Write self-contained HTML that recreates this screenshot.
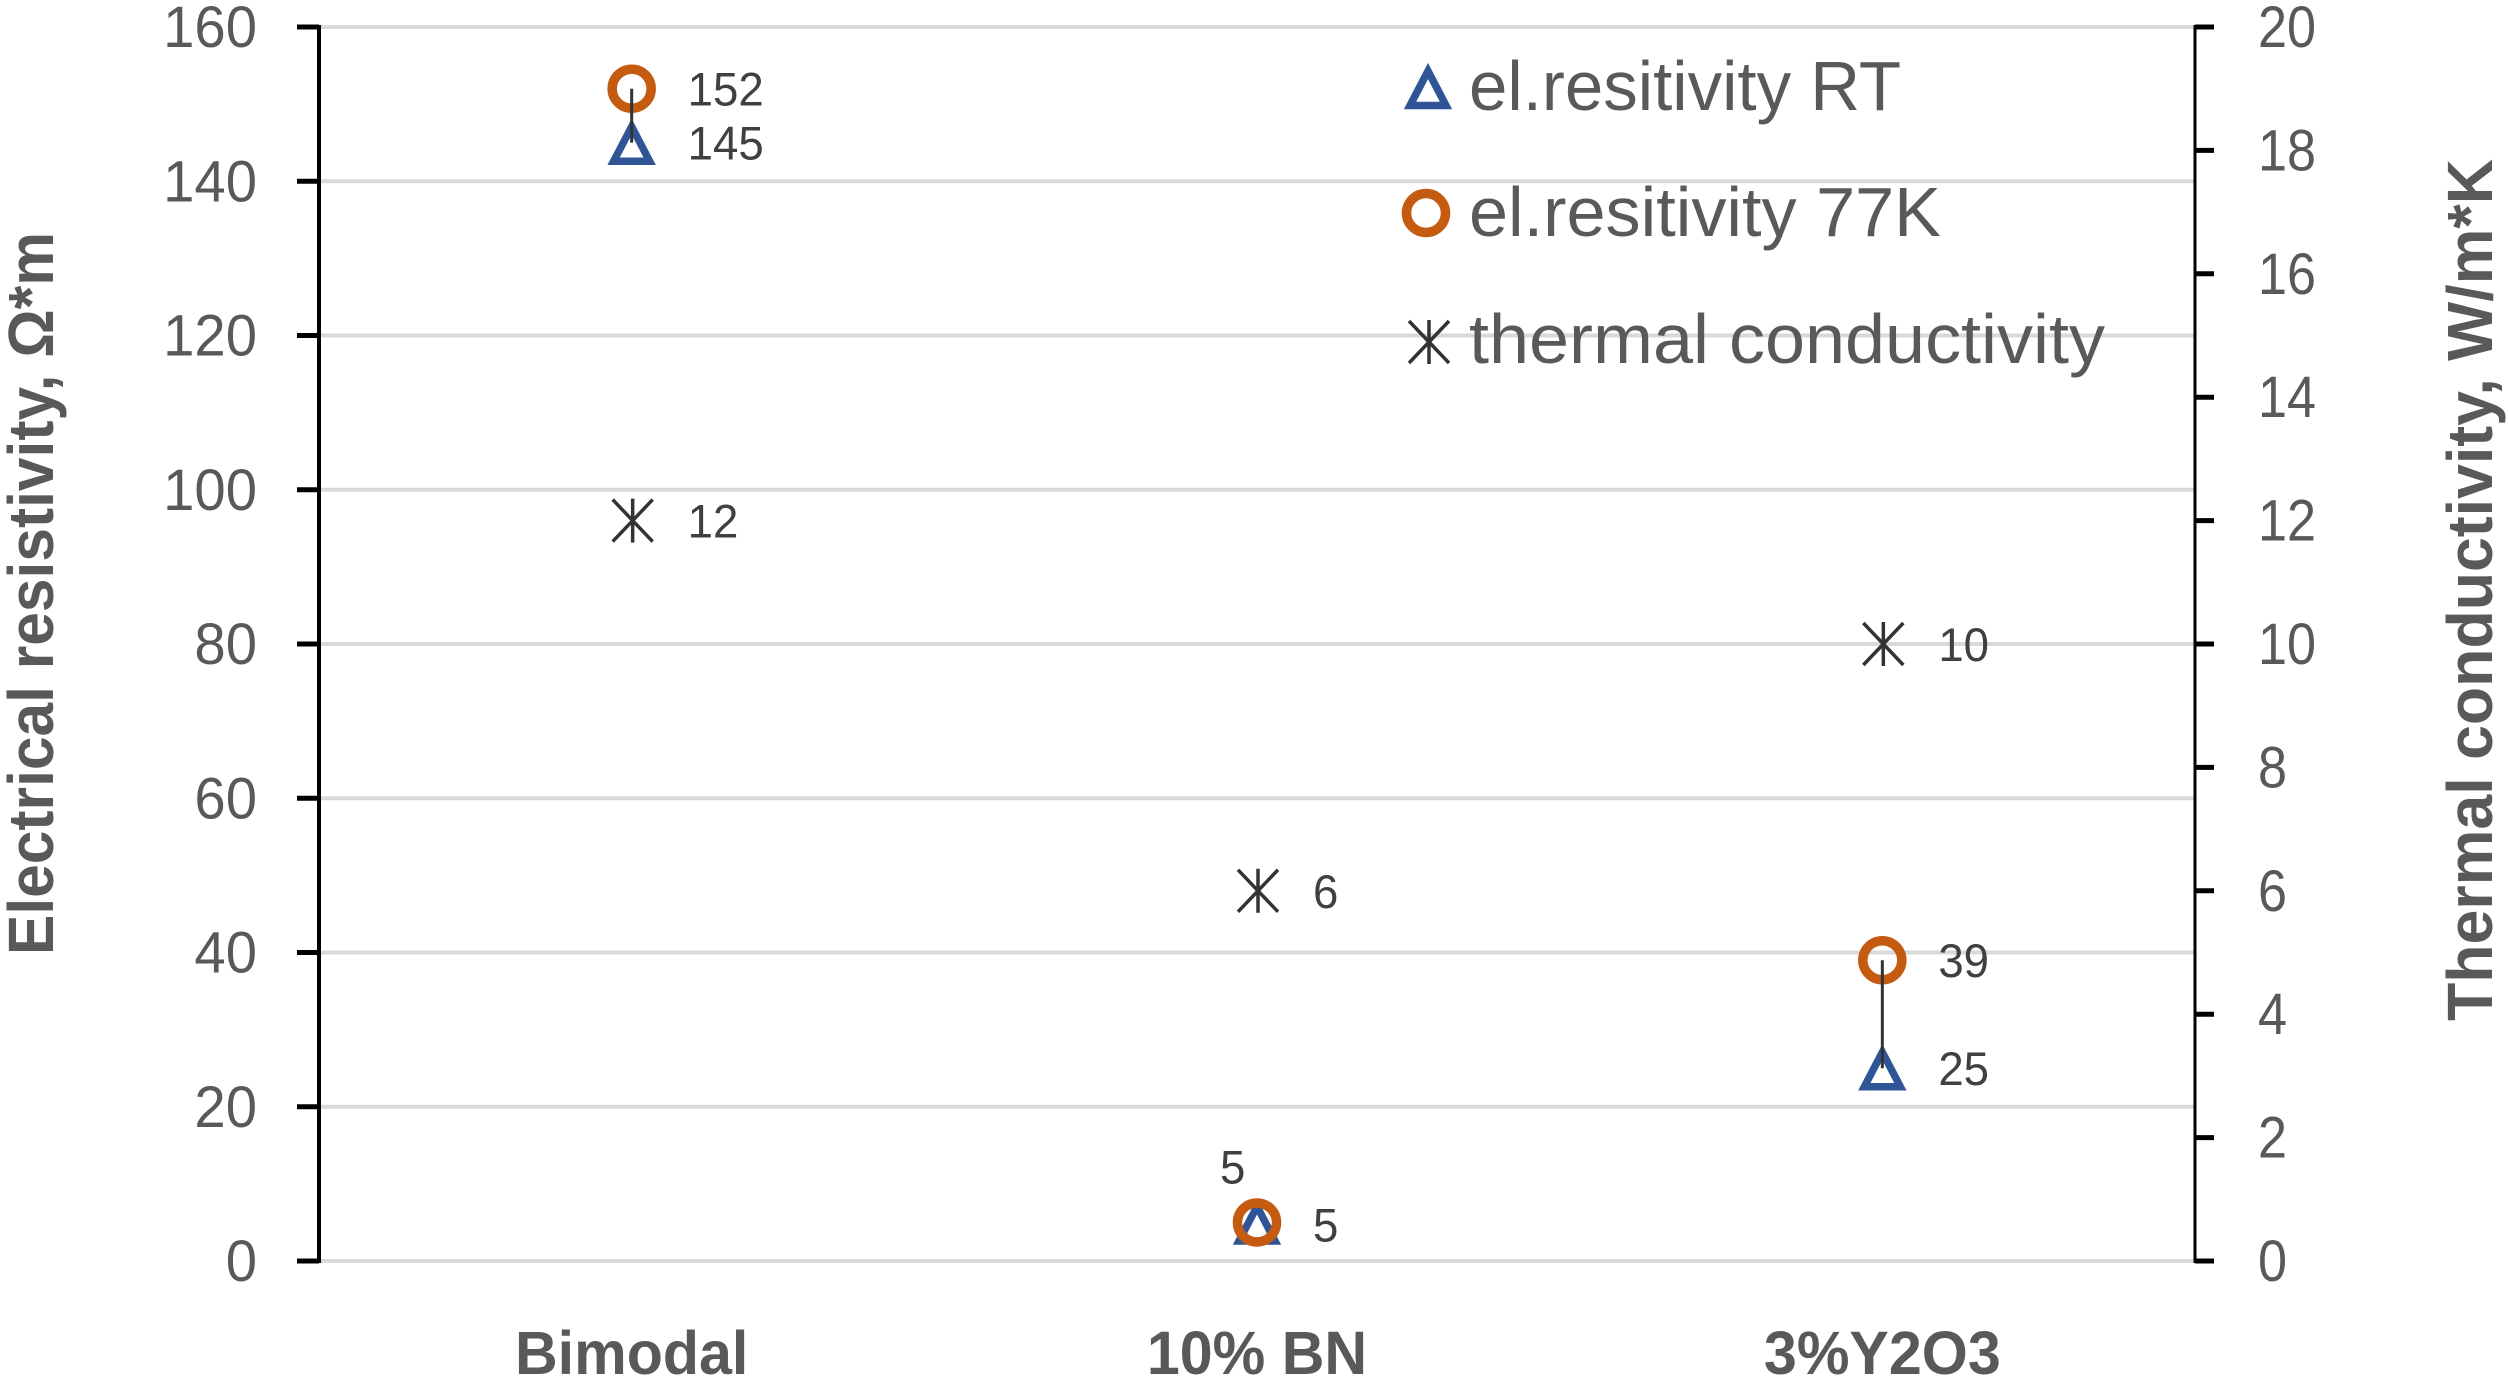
<!DOCTYPE html>
<html lang="en">
<head>
<meta charset="utf-8">
<title>Electrical resistivity and thermal conductivity</title>
<style>
  html, body { margin: 0; padding: 0; background: #fff; }
  #chart { display: block; width: 2508px; height: 1379px; background: #fff; font-family: "Liberation Sans", sans-serif; }
  .tick-label { font-size: 58px; fill: #595959; }
  .data-label { font-size: 47px; fill: #404040; }
  .cat-label { font-size: 61px; font-weight: 700; fill: #595959; text-anchor: middle; }
  .axis-title { font-size: 64px; font-weight: 700; fill: #595959; }
  .legend-text { font-size: 70px; fill: #595959; }
</style>
</head>
<body>
<svg id="chart" xmlns="http://www.w3.org/2000/svg" width="2508" height="1379" viewBox="0 0 2508 1379">
  <g id="grid"></g>
  <g id="axes"></g>
  <g id="marks"></g>
  <g id="labels"></g>
  <g id="cats"></g>

  <text class="axis-title" transform="translate(53,955) rotate(-90)" textLength="723" lengthAdjust="spacingAndGlyphs">Electrical resistivity, Ω*m</text>
  <text class="axis-title" transform="translate(2492,1021) rotate(-90)" textLength="862" lengthAdjust="spacingAndGlyphs">Thermal conductivity, W/m*K</text>

  <g>
    <g id="legend-marker-rt"></g>
    <text class="legend-text" x="1469" y="110" textLength="432" lengthAdjust="spacingAndGlyphs">el.resitivity RT</text>
    <g id="legend-marker-77k"></g>
    <text class="legend-text" x="1469" y="236" textLength="472" lengthAdjust="spacingAndGlyphs">el.resitivity 77K</text>
    <g id="legend-marker-thermal"></g>
    <text class="legend-text" x="1469" y="363" textLength="636" lengthAdjust="spacingAndGlyphs">thermal conductivity</text>
  </g>
</svg>
<script>
const categories = ["Bimodal", "10% BN", "3%Y2O3"];
const resistivityRT = [145, 5, 25];
const resistivity77K = [152, 5, 39];
const thermalConductivity = [12, 6, 10];
const leftTicks = [0, 20, 40, 60, 80, 100, 120, 140, 160];
const rightTicks = [0, 2, 4, 6, 8, 10, 12, 14, 16, 18, 20];

const NS = "http://www.w3.org/2000/svg";
const plot = { left: 319, right: 2195, top: 27, bottom: 1261 };
const leftMax = 160;
const rightMax = 20;

function xCat(i) { return plot.left + (i + 0.5) * (plot.right - plot.left) / categories.length; }
function yLeft(v) { return plot.bottom - v / leftMax * (plot.bottom - plot.top); }
function yRight(v) { return plot.bottom - v / rightMax * (plot.bottom - plot.top); }

function shape(parent, tag, props) {
  const el = document.createElementNS(NS, tag);
  for (const k in props) el.setAttribute(k, props[k]);
  parent.appendChild(el);
  return el;
}

function drawLine(parent, x1, y1, x2, y2, stroke, width) {
  return shape(parent, "line", { x1: x1, y1: y1, x2: x2, y2: y2, stroke: stroke, "stroke-width": width });
}

function drawTriangle(parent, cx, cy) {
  const pts = [[cx - 18, cy + 18.5], [cx + 18, cy + 18.5], [cx, cy - 16]].map(p => p.join(",")).join(" ");
  return shape(parent, "polygon", { points: pts, fill: "none", stroke: "#2f5597", "stroke-width": 7.5, "stroke-linejoin": "miter", "stroke-miterlimit": 6 });
}

function drawCircle(parent, cx, cy) {
  return shape(parent, "circle", { cx: cx, cy: cy, r: 19.5, fill: "none", stroke: "#c55a11", "stroke-width": 9.5 });
}

function drawStar(parent, cx, cy) {
  const g = shape(parent, "g", { stroke: "#333333", "stroke-width": 3.5 });
  shape(g, "line", { x1: cx, y1: cy - 22, x2: cx, y2: cy + 22 });
  shape(g, "line", { x1: cx - 20, y1: cy - 21, x2: cx + 20, y2: cy + 21 });
  shape(g, "line", { x1: cx - 20, y1: cy + 21, x2: cx + 20, y2: cy - 21 });
  return g;
}

function drawText(parent, x, y, cls, str, anchor, squeeze) {
  const t = shape(parent, "text", { x: x, y: y, class: cls, "text-anchor": anchor || "start" });
  t.textContent = str;
  if (squeeze) {
    t.setAttribute("lengthAdjust", "spacingAndGlyphs");
    t.setAttribute("textLength", t.getComputedTextLength() * squeeze);
  }
  return t;
}

const gridG = document.getElementById("grid");
const axesG = document.getElementById("axes");
const marksG = document.getElementById("marks");
const labelsG = document.getElementById("labels");
const catsG = document.getElementById("cats");

// Gridlines, left axis ticks and labels
leftTicks.forEach(function (v) {
  const y = yLeft(v);
  const grid = drawLine(gridG, plot.left, y, plot.right, y, "#d9d9d9", 4);
  
  
  const tick = drawLine(axesG, 297, y, plot.left, y, "#000000", 5);
  
  
  const label = drawText(axesG, 257, y + 20, "tick-label", String(v), "end", 0.97);
  
  
});

// Right axis ticks and labels
rightTicks.forEach(function (v) {
  const y = yRight(v);
  const tick = drawLine(axesG, plot.right, y, 2214, y, "#000000", 5);
  
  
  const label = drawText(axesG, 2258, y + 20, "tick-label", String(v), "start", 0.9);
  
  
});

// Axis lines
const leftAxis = drawLine(axesG, plot.left, plot.top - 2, plot.left, plot.bottom + 2, "#000000", 4);


const rightAxis = drawLine(axesG, plot.right, plot.top - 2, plot.right, plot.bottom + 2, "#000000", 3);



// Marks and value labels
categories.forEach(function (cat, i) {
  const x = xCat(i);
  const yRT = yLeft(resistivityRT[i]);
  const y77 = yLeft(resistivity77K[i]);
  const yTC = yRight(thermalConductivity[i]);

  const tri = drawTriangle(marksG, x, yRT);
  
  

  const circ = drawCircle(marksG, x, y77);
  
  

  const star = drawStar(marksG, x + 1, yTC);
  
  

  const hiLo = drawLine(marksG, x, y77, x, yRT, "#333333", 3);
  
  

  const coincide = resistivityRT[i] === resistivity77K[i];

  const lRT = drawText(labelsG, x + 56, yRT + (coincide ? 19 : 17), "data-label", String(resistivityRT[i]), "start", 0.97);
  
  

  const l77 = coincide
    ? drawText(labelsG, x - 37, y77 - 39, "data-label", String(resistivity77K[i]), "start", 0.97)
    : drawText(labelsG, x + 56, y77 + 17, "data-label", String(resistivity77K[i]), "start", 0.97);
  
  

  const lTC = drawText(labelsG, x + 56, yTC + 17, "data-label", String(thermalConductivity[i]), "start", 0.97);
  
  

  const cl = drawText(catsG, x, 1374, "cat-label", cat, "middle", 0.97);
  
  
});

// Legend markers
drawTriangle(document.getElementById("legend-marker-rt"), 1428, 87);
drawCircle(document.getElementById("legend-marker-77k"), 1426, 213);
drawStar(document.getElementById("legend-marker-thermal"), 1429, 342);
</script>
</body>
</html>
